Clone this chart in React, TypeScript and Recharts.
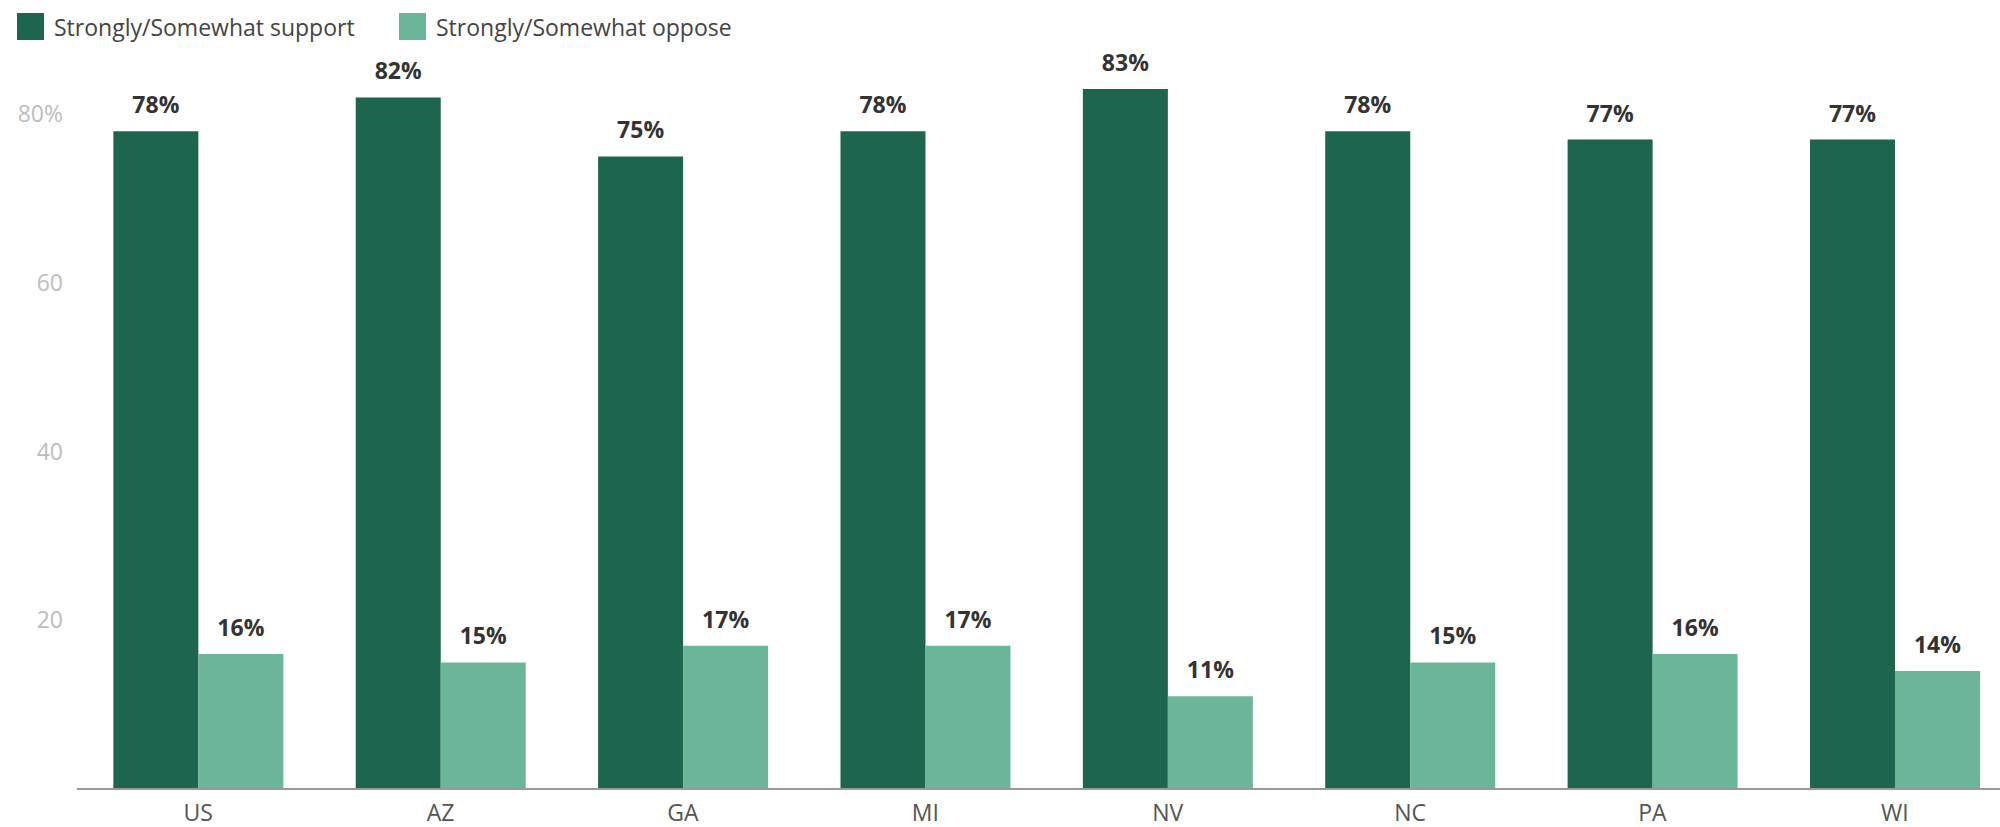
import { Bar, BarChart, LabelList, XAxis, YAxis } from "recharts";

const states = ["US", "AZ", "GA", "MI", "NV", "NC", "PA", "WI"];
const support = [78, 82, 75, 78, 83, 78, 77, 77];
const oppose = [16, 15, 17, 17, 11, 15, 16, 14];
const yTicks = [20, 40, 60, 80];

const SUPPORT = "#1d654e";
const OPPOSE = "#6bb599";
const FONT = "'Open Sans', sans-serif";

const data = states.map((state, i) => ({ state, support: support[i], oppose: oppose[i] }));

const legendItems = [
  { label: "Strongly/Somewhat support", color: SUPPORT, left: 17 },
  { label: "Strongly/Somewhat oppose", color: OPPOSE, left: 399 },
];

export default function App() {
  return (
    <div
      style={{
        position: "absolute",
        left: 0,
        top: 0,
        width: 2000,
        height: 827,
        overflow: "hidden",
        background: "#fff",
        fontFamily: FONT,
      }}
    >
      {legendItems.map((it) => (
        <div
          key={it.label}
          style={{ position: "absolute", top: 13, left: it.left, display: "flex", alignItems: "center", height: 27 }}
        >
          <span style={{ width: 27, height: 27, background: it.color, display: "inline-block" }} />
          <span style={{ marginLeft: 10, fontSize: 23, color: "#444", whiteSpace: "nowrap" }}>{it.label}</span>
        </div>
      ))}
      <BarChart
        width={2016}
        height={827}
        data={data}
        margin={{ top: 89, right: 0, bottom: 0, left: 0 }}
        barCategoryGap="15%"
        barGap={0}
      >
        <XAxis
          dataKey="state"
          height={38}
          axisLine={{ stroke: "#999", strokeWidth: 2 }}
          tickLine={false}
          tickMargin={10}
          tick={{ fill: "#555", fontSize: 23, fontFamily: FONT }}
        />
        <YAxis
          width={77}
          domain={[0, 83]}
          ticks={yTicks}
          axisLine={false}
          tickLine={false}
          tickMargin={8}
          tickFormatter={(v: number) => (v === 80 ? "80%" : String(v))}
          tick={{ fill: "#bdbdbd", fontSize: 23, fontFamily: FONT }}
        />
        <Bar dataKey="support" fill={SUPPORT} isAnimationActive={false}>
          <LabelList
            dataKey="support"
            position="top"
            offset={18}
            formatter={(v: number) => `${v}%`}
            style={{ fill: "#333", fontSize: 23, fontWeight: 700, fontFamily: FONT }}
          />
        </Bar>
        <Bar dataKey="oppose" fill={OPPOSE} isAnimationActive={false}>
          <LabelList
            dataKey="oppose"
            position="top"
            offset={18}
            formatter={(v: number) => `${v}%`}
            style={{ fill: "#333", fontSize: 23, fontWeight: 700, fontFamily: FONT }}
          />
        </Bar>
      </BarChart>
    </div>
  );
}
